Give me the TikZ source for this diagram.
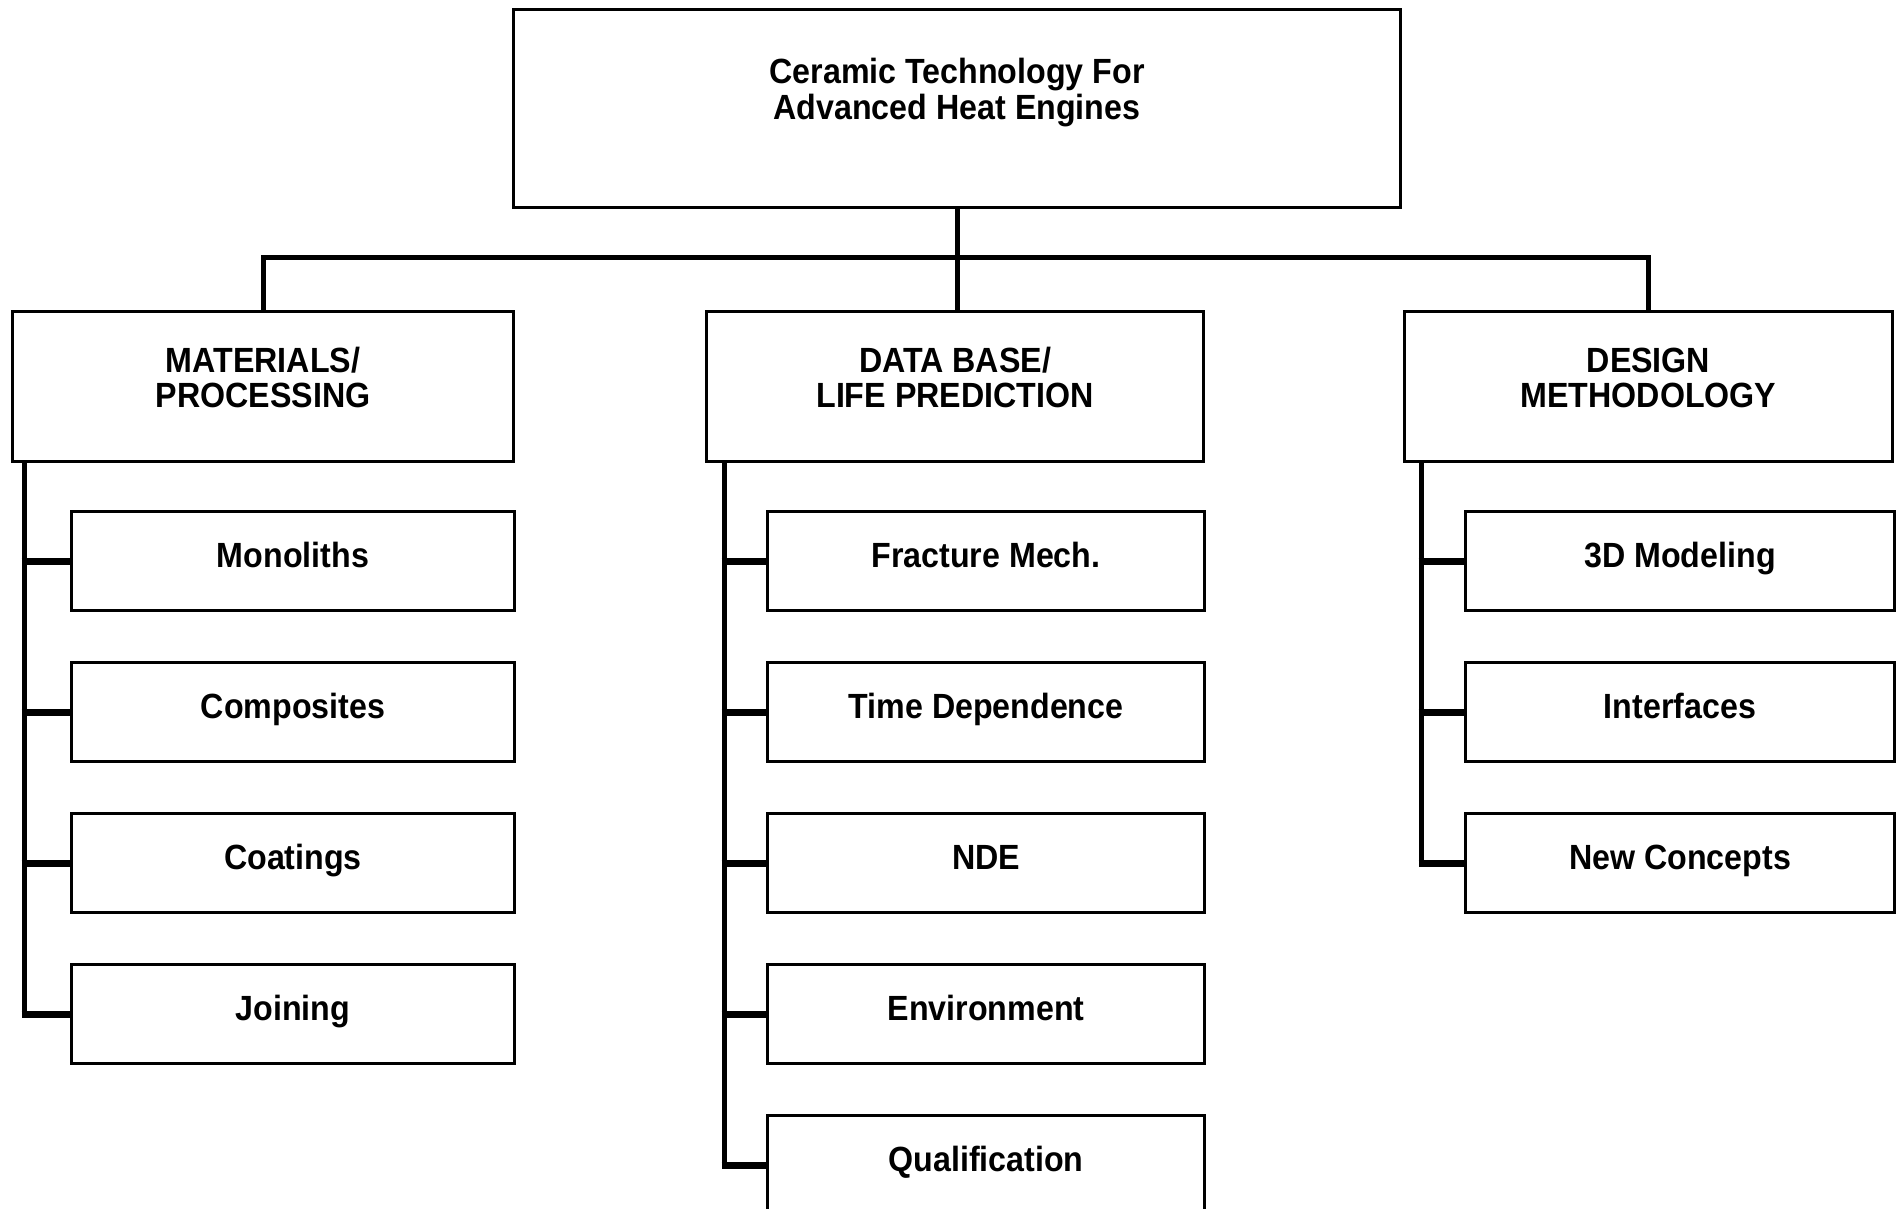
\documentclass[tikz,border=0pt]{standalone}
\usepackage{fontspec}
\setmainfont[FakeStretch=0.92]{Liberation Sans}
\usepackage{tikz}
\usetikzlibrary{
    positioning,
    calc
}
\tikzstyle{mainbox} = [
    rectangle,
    draw,
    line width=3pt,
    anchor=north west,
    minimum width=887pt,
    minimum height=198pt,
    align=center,
    text depth=39pt,
    font=\fontsize{35}{36}\selectfont\bfseries
]
\tikzstyle{area} = [
    rectangle,
    draw,
    line width=3pt,
    anchor=north west,
    minimum height=150pt,
    align=center,
    text depth=18pt,
    font=\fontsize{35}{35}\selectfont\bfseries
]
\tikzstyle{task} = [
    rectangle,
    draw,
    line width=3pt,
    anchor=north west,
    minimum height=99pt,
    text height=25pt,
    text depth=12pt,
    font=\fontsize{35}{36}\selectfont\bfseries
]
\tikzstyle{link} = [
    line width=5pt
]
\tikzstyle{stub} = [
    line width=7pt
]

\begin{document}
\begin{tikzpicture}[x=1pt, y=1pt]
    \useasboundingbox (0,0) rectangle (1898,-1208);

    % Main box
    \node[mainbox] (top) at (512,-8) {Ceramic Technology For\\Advanced Heat Engines};

    % Areas
    \node[area, minimum width=501pt] (mat) at (11,-310) {MATERIALS/\\PROCESSING};
    \node[area, minimum width=497pt] (dat) at (705,-310) {DATA BASE/\\LIFE PREDICTION};
    \node[area, minimum width=488pt] (des) at (1403,-310) {DESIGN\\METHODOLOGY};

    % Tasks
    \node[task, minimum width=443pt] (mono) at (70,-510) {Monoliths};
    \node[task, minimum width=443pt, below=49pt of mono] (comp) {Composites};
    \node[task, minimum width=443pt, below=49pt of comp] (coat) {Coatings};
    \node[task, minimum width=443pt, below=49pt of coat] (join) {Joining};

    \node[task, minimum width=437pt] (frac) at (766,-510) {Fracture Mech.};
    \node[task, minimum width=437pt, below=49pt of frac] (time) {Time Dependence};
    \node[task, minimum width=437pt, below=49pt of time] (nde) {NDE};
    \node[task, minimum width=437pt, below=49pt of nde] (env) {Environment};
    \node[task, minimum width=437pt, below=49pt of env] (qual) {Qualification};

    \node[task, minimum width=429pt] (model) at (1464,-510) {3D Modeling};
    \node[task, minimum width=429pt, below=49pt of model] (inter) {Interfaces};
    \node[task, minimum width=429pt, below=49pt of inter] (concept) {New Concepts};

    % Lines
    \coordinate (bus) at (top.south |- 0,-257);
    \draw[link] (top.south) -- (top.south |- dat.north);
    \draw[link] (mat.north) |- (bus) -| (des.north);

    \coordinate (spineL) at ([xshift=13pt]mat.south west);
    \coordinate (spineM) at ([xshift=19pt]dat.south west);
    \coordinate (spineR) at ([xshift=18pt]des.south west);
    \draw[link] (spineL) -- (spineL |- join.west);
    \draw[link] (spineM) -- (spineM |- qual.west);
    \draw[link] (spineR) -- (spineR |- concept.west);
    \foreach \n in {mono,comp,coat,join}
        \draw[stub] ([xshift=-2.5pt]spineL |- \n.west) -- (\n.west);
    \foreach \n in {frac,time,nde,env,qual}
        \draw[stub] ([xshift=-2.5pt]spineM |- \n.west) -- (\n.west);
    \foreach \n in {model,inter,concept}
        \draw[stub] ([xshift=-2.5pt]spineR |- \n.west) -- (\n.west);
\end{tikzpicture}
\end{document}
